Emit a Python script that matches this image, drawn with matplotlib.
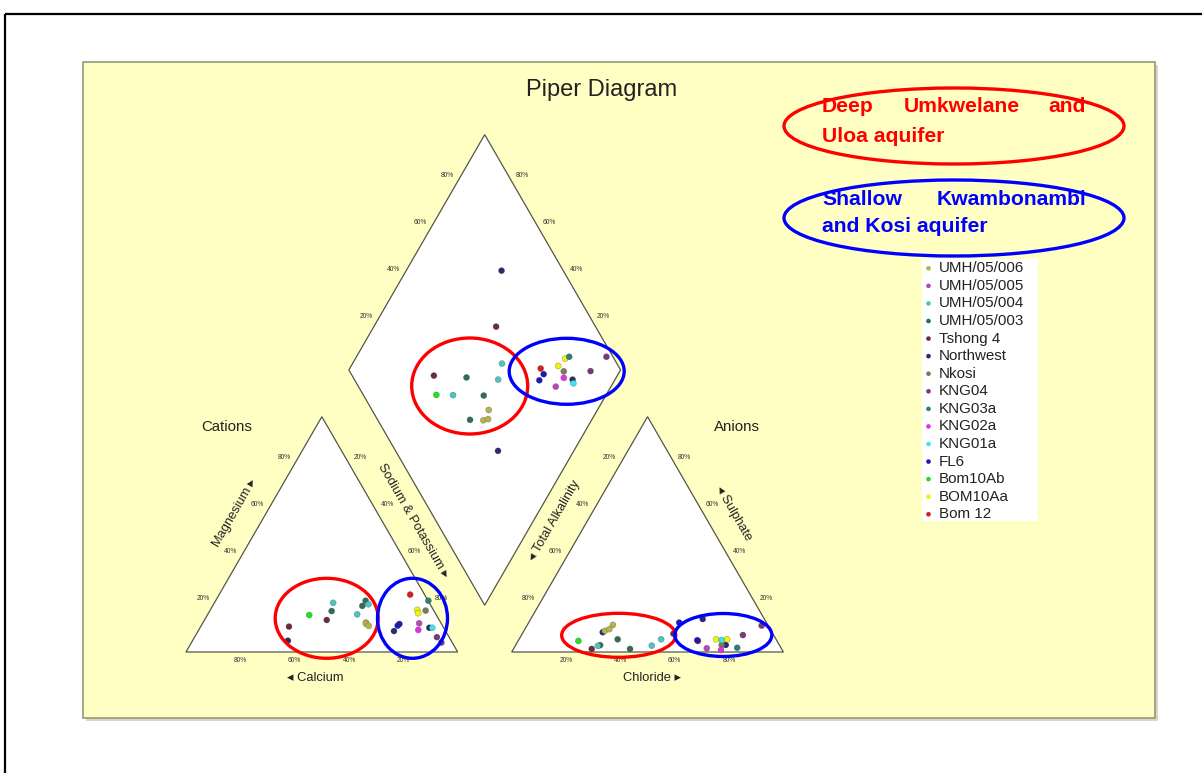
import numpy as np
import matplotlib
matplotlib.use('Agg')
import matplotlib.pyplot as plt
from matplotlib.patches import Polygon, Rectangle, Ellipse

plt.rcParams['font.family'] = ['Liberation Sans', 'DejaVu Sans']

# ---------------- data ----------------
series_names = ['UMH/05/006', 'UMH/05/005', 'UMH/05/004', 'UMH/05/003', 'Tshong 4',
                'Northwest', 'Nkosi', 'KNG04', 'KNG03a', 'KNG02a', 'KNG01a', 'FL6',
                'Bom10Ab', 'BOM10Aa', 'Bom 12']
series_colors = ['#b4b44a', '#b44cb4', '#4cc4c4', '#2f6f4f', '#6e2a40',
                 '#2b2b70', '#7b7b52', '#7a3a7a', '#2b7f7f', '#e62ee6', '#3ee6e6', '#1a1ab8',
                 '#22e022', '#f2f20a', '#d42020']

sample_series = ['Tshong 4', 'Tshong 4',
                 'Northwest', 'Northwest', 'Northwest',
                 'UMH/05/003', 'UMH/05/003', 'UMH/05/003',
                 'UMH/05/004', 'UMH/05/004', 'UMH/05/004',
                 'UMH/05/006', 'UMH/05/006', 'UMH/05/006',
                 'UMH/05/005', 'Bom10Ab', 'Bom 12', 'FL6', 'FL6',
                 'BOM10Aa', 'BOM10Aa', 'Nkosi', 'KNG03a', 'KNG02a', 'KNG01a',
                 'KNG04', 'KNG04']
# cations (% meq)
mg_pct  = [10.8, 13.6, 4.8, 8.9, 10.3, 17.4, 19.6, 21.8, 20.9, 16.0, 20.3,
           12.5, 12.0, 11.1, 12.2, 15.7, 24.4, 11.9, 11.2, 17.9, 16.5, 17.6,
           21.8, 9.4, 10.3, 6.3, 4.0]
nak_pct = [32.5, 45.0, 35.1, 72.1, 84.4, 44.9, 55.1, 55.2, 43.7, 55.0, 57.0,
           60.0, 60.2, 61.7, 79.7, 37.5, 70.3, 72.6, 72.3, 76.2, 77.2, 79.4,
           78.3, 80.8, 85.5, 89.2, 92.0]
# anions (% meq)
so4_pct = [1.3, 7.8, 14.0, 8.4, 3.0, 5.4, 1.3, 2.9, 2.6, 5.4, 2.7,
           11.5, 9.0, 9.7, 1.6, 4.7, 4.7, 5.0, 12.5, 5.4, 5.4, 3.0,
           1.8, 0.85, 5.1, 7.2, 11.2]
cl_pct  = [28.8, 55.6, 63.3, 29.3, 77.3, 36.3, 42.9, 31.1, 30.4, 52.3, 50.2,
           31.5, 29.8, 31.1, 71.0, 22.2, 66.2, 65.8, 55.4, 72.5, 76.6, 75.8,
           82.1, 76.6, 74.7, 81.5, 86.4]

tick_vals = [20, 40, 60, 80]

# ---------------- geometry (pixels) ----------------
W, Hfig = 1202, 773
S = 271.7
H = S * np.sqrt(3) / 2
CL = (186.0, 652.0)          # cation triangle lower-left
AL = (511.7, 652.0)          # anion triangle lower-left
gap = AL[0] - (CL[0] + S)
B = (CL[0] + S + gap / 2, CL[1] - gap * np.sqrt(3) / 2)   # diamond bottom


def cat_xy(mg, nak):
    mg = np.asarray(mg) / 100.0
    nak = np.asarray(nak) / 100.0
    return CL[0] + S * (nak + mg / 2), CL[1] - H * mg


def an_xy(so4, cl):
    so4 = np.asarray(so4) / 100.0
    cl = np.asarray(cl) / 100.0
    return AL[0] + S * (cl + so4 / 2), AL[1] - H * so4


def dia_xy(camg, so4cl):
    c = np.asarray(camg) / 100.0
    a = np.asarray(so4cl) / 100.0
    return B[0] + S / 2 * (a - c), B[1] - H * (a + c)


fig = plt.figure(figsize=(W / 100, Hfig / 100), dpi=100)
ax = fig.add_axes([0, 0, 1, 1])
ax.set_xlim(0, W)
ax.set_ylim(Hfig, 0)
ax.axis('off')

# page frame
ax.plot([5, W], [14, 14], color='black', lw=1.6, solid_capstyle='butt')
ax.plot([5, 5], [14, Hfig], color='black', lw=1.6, solid_capstyle='butt')

# yellow panel with shadow
ax.add_patch(Rectangle((86, 65), 1072, 656, facecolor='#d8d8c8', edgecolor='none', zorder=1))
ax.add_patch(Rectangle((83, 62), 1072, 656, facecolor='#ffffc4', edgecolor='#8f8f70',
                       lw=1.1, zorder=2))

edge_col = '#55554a'
# triangles / diamond
cat_tri = [cat_xy(0, 0), cat_xy(0, 100), cat_xy(100, 0)]
an_tri = [an_xy(0, 0), an_xy(0, 100), an_xy(100, 0)]
dia = [dia_xy(0, 0), dia_xy(100, 0), dia_xy(100, 100), dia_xy(0, 100)]
for pts in (cat_tri, an_tri, dia):
    ax.add_patch(Polygon([(float(p[0]), float(p[1])) for p in pts], closed=True,
                         facecolor='white', edgecolor=edge_col, lw=0.9, zorder=3))

tk = dict(fontsize=4.8, color='#333333', ha='center', va='center', zorder=4)
for v in tick_vals:
    # cation
    x, y = CL[0] + S * (1 - v / 100), CL[1] + 8
    ax.text(x, y, f'{v}%', **tk)
    x, y = cat_xy(v, 0)
    ax.text(x - 10, y - 6, f'{v}%', **tk)
    x, y = cat_xy(100 - v, v)
    ax.text(x + 11, y - 6, f'{v}%', **tk)
    # anion
    x, y = AL[0] + S * v / 100, AL[1] + 8
    ax.text(x, y, f'{v}%', **tk)
    x, y = an_xy(100 - v, 0)
    ax.text(x - 11, y - 6, f'{v}%', **tk)
    x, y = an_xy(v, 100 - v)
    ax.text(x + 10, y - 6, f'{v}%', **tk)
    # diamond
    x, y = dia_xy(100, v)
    ax.text(x - 10, y - 6, f'{v}%', **tk)
    x, y = dia_xy(v, 100)
    ax.text(x + 10, y - 6, f'{v}%', **tk)

lab = dict(fontsize=9.3, color='#222222', ha='center', va='center', zorder=4)
ax.text(315, 678, '\u25c2 Calcium', **lab)
ax.text(652, 678, 'Chloride \u25b8', **lab)
ax.text(235, 513, 'Magnesium \u25b8', rotation=60, **lab)
ax.text(413, 521, 'Sodium & Potassium \u25b8', rotation=-60, **lab)
ax.text(555, 521, '\u25c2 Total Alkalinity', rotation=60, **lab)
ax.text(733, 513, '\u25c2 Sulphate', rotation=-60, **lab)
ax.text(226.5, 427, 'Cations', fontsize=10.8, color='#222222', ha='center', va='center')
ax.text(737, 427, 'Anions', fontsize=10.8, color='#222222', ha='center', va='center')
ax.text(602, 90, 'Piper Diagram', fontsize=17, color='#222222', ha='center', va='center')

# ---------------- data points ----------------
color_of = dict(zip(series_names, series_colors))
cols = [color_of[s] for s in sample_series]
mg = np.array(mg_pct)
nak = np.array(nak_pct)
so4 = np.array(so4_pct)
cl = np.array(cl_pct)
ca_mg = 100 - nak
so4_cl = so4 + cl

pk = dict(s=19, c=cols, edgecolors='#33333366', linewidths=0.4, zorder=5)
cx, cy = cat_xy(mg, nak)
ax.scatter(cx, cy, **pk)
axx, ayy = an_xy(so4, cl)
ax.scatter(axx, ayy, **pk)
dx, dy = dia_xy(ca_mg, so4_cl)
ax.scatter(dx, dy, **pk)

# ---------------- group ellipses ----------------
ell = [((469.7, 386), 116, 96, 'red'), ((566.7, 371.3), 115, 66, 'blue'),
       ((326.7, 618.3), 103, 80, 'red'), ((412.5, 618.3), 70, 80, 'blue'),
       ((618.7, 635.3), 114, 44, 'red'), ((723.3, 635), 97, 43, 'blue')]
for (cxy, w, h, c) in ell:
    ax.add_patch(Ellipse(cxy, w, h, facecolor='none', edgecolor='#ff0000' if c == 'red' else '#0000ff',
                         lw=2.4, zorder=6))

# annotation ellipses
ax.add_patch(Ellipse((954, 126), 340, 76, facecolor='none', edgecolor='#ff0000', lw=2.4, zorder=6))
ax.add_patch(Ellipse((954, 218), 340, 76, facecolor='none', edgecolor='#0000ff', lw=2.4, zorder=6))
an = dict(fontsize=15.2, fontweight='bold', va='center', zorder=7)
ax.text(822, 107, 'Deep', color='#ff0000', ha='left', **an)
ax.text(962, 107, 'Umkwelane', color='#ff0000', ha='center', **an)
ax.text(1086, 107, 'and', color='#ff0000', ha='right', **an)
ax.text(822, 136, 'Uloa aquifer', color='#ff0000', ha='left', **an)
ax.text(822, 199.5, 'Shallow', color='#0000ff', ha='left', **an)
ax.text(1086, 199.5, 'Kwambonambi', color='#0000ff', ha='right', **an)
ax.text(822, 227, 'and Kosi aquifer', color='#0000ff', ha='left', **an)

# ---------------- legend ----------------
ax.add_patch(Rectangle((922, 259), 116, 262, facecolor='white', edgecolor='none', zorder=6))
y0, dyl = 268.3, 17.57
for i, (nm, c) in enumerate(zip(series_names, series_colors)):
    yy = y0 + i * dyl
    ax.scatter([928.5], [yy], s=11, c=c, edgecolors='none', zorder=7)
    ax.text(939, yy, nm, fontsize=10.9, color='#222222', ha='left', va='center', zorder=7)

fig.savefig('out.png', dpi=100, facecolor='white')
